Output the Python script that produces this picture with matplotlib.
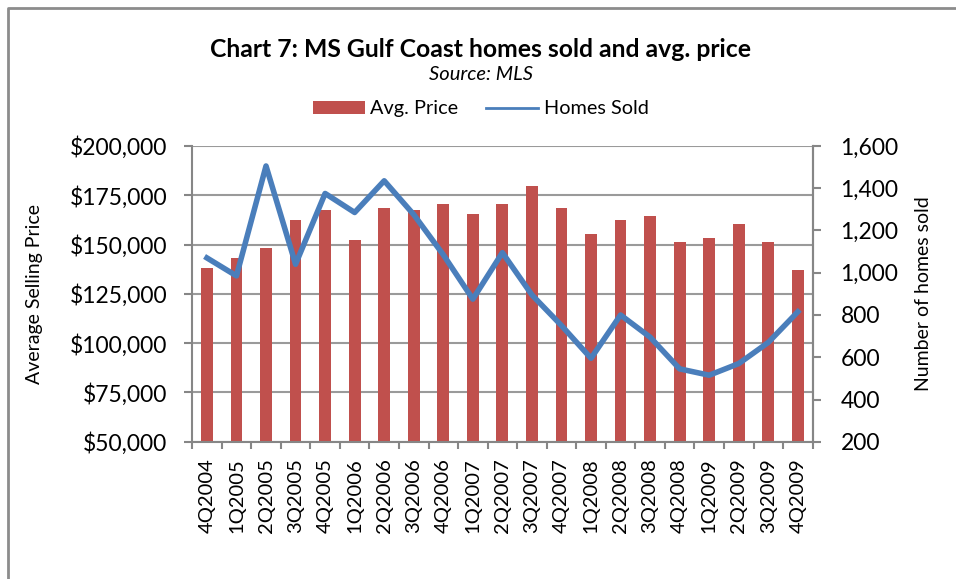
import matplotlib.pyplot as plt
from matplotlib.lines import Line2D
from matplotlib.ticker import FuncFormatter
import numpy as np

quarters = ['4Q2004', '1Q2005', '2Q2005', '3Q2005', '4Q2005', '1Q2006', '2Q2006',
            '3Q2006', '4Q2006', '1Q2007', '2Q2007', '3Q2007', '4Q2007', '1Q2008',
            '2Q2008', '3Q2008', '4Q2008', '1Q2009', '2Q2009', '3Q2009', '4Q2009']
avg_price = [138200, 143300, 148300, 162500, 167600, 152400, 168600,
             167600, 170600, 165500, 170600, 179700, 168600, 155400,
             162500, 164500, 151400, 153400, 160500, 151400, 137200]
homes_sold = [1070, 985, 1505, 1040, 1375, 1285, 1435,
              1275, 1085, 875, 1095, 895, 750, 595,
              800, 695, 545, 515, 570, 670, 815]

plt.rcParams['font.family'] = ['Lato', 'DejaVu Sans']

bar_color = '#C0504D'
line_color = '#4A7EBB'
axis_gray = '#868686'

fig = plt.figure(figsize=(9.56, 5.79), dpi=100)
ax = fig.add_axes([0.201, 0.237, 0.649, 0.511])
x = np.arange(len(quarters))

ax.bar(x, avg_price, width=0.4, color=bar_color, zorder=2, label='Avg. Price')
ax.set_ylim(50000, 200000)
ax.set_yticks(np.arange(50000, 200001, 25000))
ax.yaxis.set_major_formatter(FuncFormatter(lambda v, p: '${:,.0f}'.format(v)))
ax.set_xlim(-0.5, len(quarters) - 0.5)
ax.set_xticks(x)
ax.set_xticklabels(quarters, rotation=90, fontsize=14.5)
ax.set_xticks(np.arange(-0.5, len(quarters)), minor=True)
ax.tick_params(axis='x', which='major', length=0, pad=12)
ax.tick_params(axis='x', which='minor', length=5, color=axis_gray, width=1.5)
ax.tick_params(axis='y', labelsize=16.5, length=6, color=axis_gray, width=1.5, pad=12)
ax.grid(axis='y', color='#9a9a9a', linewidth=1.5, zorder=0)
ax.set_axisbelow(True)
ax.set_ylabel('Average Selling Price', fontsize=14)
ax.yaxis.set_label_coords(-0.24, 0.5)
ax.spines['top'].set_visible(False)
for side in ['left', 'bottom', 'right']:
    ax.spines[side].set_color(axis_gray)
    ax.spines[side].set_linewidth(1.5)

ax2 = ax.twinx()
ax2.plot(x, homes_sold, color=line_color, linewidth=4, zorder=3, label='Homes Sold')
ax2.set_ylim(200, 1600)
ax2.set_yticks(np.arange(200, 1601, 200))
ax2.yaxis.set_major_formatter(FuncFormatter(lambda v, p: '{:,.0f}'.format(v)))
ax2.tick_params(axis='y', labelsize=16.5, length=6, color=axis_gray, width=1.5, pad=14)
ax2.set_ylabel('Number of homes sold', fontsize=14)
ax2.yaxis.set_label_coords(1.165, 0.5)
for side in ['top', 'left', 'bottom']:
    ax2.spines[side].set_visible(False)
ax2.spines['right'].set_color(axis_gray)
ax2.spines['right'].set_linewidth(1.5)

fig.text(0.503, 0.915, 'Chart 7: MS Gulf Coast homes sold and avg. price',
         ha='center', va='center', fontsize=17.8, fontweight='bold')
fig.text(0.503, 0.871, 'Source: MLS', ha='center', va='center', fontsize=14.5, style='italic')

handles = [ax.patches[0], ax2.lines[0]]
fig.legend(handles, ['Avg. Price', 'Homes Sold'], loc='center', bbox_to_anchor=(0.503, 0.812),
           ncol=2, frameon=False, fontsize=14.3, handlelength=2.6, handleheight=0.6,
           columnspacing=1.4, handletextpad=0.3, borderpad=0.2)
leg = fig.legends[0]
leg.legend_handles[1].set_linewidth(2)

# outer chart border
fig.add_artist(Line2D([8 / 956, 8 / 956, 1.0], [0.0, 1 - 8 / 579, 1 - 8 / 579],
                      transform=fig.transFigure, color='#8c8c8c', linewidth=2))

fig.savefig('out.png', dpi=100)
